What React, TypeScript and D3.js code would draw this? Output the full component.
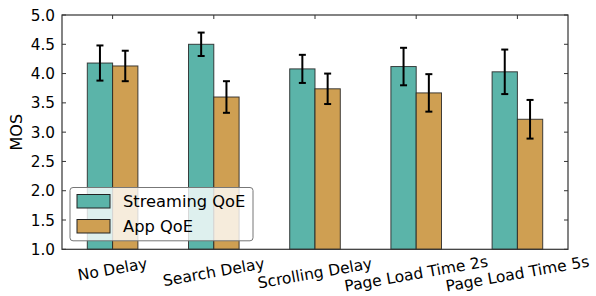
import React, { useEffect, useRef } from "react";
import * as d3 from "d3";

const categories = ["No Delay", "Search Delay", "Scrolling Delay", "Page Load Time 2s", "Page Load Time 5s"];
const seriesNames = ["Streaming QoE", "App QoE"];
const streamingMean = [4.18, 4.5, 4.08, 4.12, 4.03];
const streamingErr = [0.3, 0.2, 0.24, 0.32, 0.38];
const appMean = [4.13, 3.6, 3.74, 3.67, 3.22];
const appErr = [0.26, 0.27, 0.26, 0.32, 0.33];
const yTicks = [1.0, 1.5, 2.0, 2.5, 3.0, 3.5, 4.0, 4.5, 5.0];
const colors = ["#5bb4a9", "#cf9f52"];

const W = 596, H = 296;
const M = { left: 62, right: 568, top: 15, bottom: 249.3 };
const FONT = "DejaVu Sans, sans-serif";

export default function App() {
  const ref = useRef<SVGSVGElement>(null);
  useEffect(() => {
    const svg = d3.select(ref.current);
    svg.selectAll("*").remove();
    const x = d3.scaleLinear().domain([-0.5, categories.length - 0.5]).range([M.left, M.right]);
    const y = d3.scaleLinear().domain([1, 5]).range([M.bottom, M.top]);
    const bw = x(0.25) - x(0);
    const series = [
      { mean: streamingMean, err: streamingErr, off: -0.25 },
      { mean: appMean, err: appErr, off: 0 },
    ];
    const g = svg.append("g");
    series.forEach((s, si) => {
      g.selectAll(null).data(s.mean).enter().append("rect")
        .attr("x", (_, i) => x(i + s.off))
        .attr("y", (d) => y(d))
        .attr("width", bw)
        .attr("height", (d) => y(1) - y(d))
        .attr("fill", colors[si])
        .attr("stroke", "#222")
        .attr("stroke-opacity", 0.85)
        .attr("stroke-width", 1);
    });
    series.forEach((s) => {
      s.mean.forEach((m, i) => {
        const cx = x(i + s.off + 0.125);
        const lo = y(m - s.err[i]), hi = y(m + s.err[i]);
        g.append("line").attr("x1", cx).attr("x2", cx).attr("y1", lo).attr("y2", hi)
          .attr("stroke", "#000").attr("stroke-width", 2);
        [lo, hi].forEach((yy) => g.append("line").attr("x1", cx - 3.5).attr("x2", cx + 3.5)
          .attr("y1", yy).attr("y2", yy).attr("stroke", "#000").attr("stroke-width", 2));
      });
    });
    // frame
    const axColor = "#333";
    svg.append("rect").attr("x", M.left).attr("y", M.top).attr("width", M.right - M.left)
      .attr("height", M.bottom - M.top).attr("fill", "none").attr("stroke", axColor).attr("stroke-width", 1.2);
    // y ticks
    yTicks.forEach((t) => {
      const yy = y(t);
      svg.append("line").attr("x1", M.left).attr("x2", M.left + 4).attr("y1", yy).attr("y2", yy).attr("stroke", axColor);
      svg.append("line").attr("x1", M.right - 4).attr("x2", M.right).attr("y1", yy).attr("y2", yy).attr("stroke", axColor);
      svg.append("text").attr("x", M.left - 7).attr("y", yy).attr("dy", "0.36em")
        .attr("text-anchor", "end").attr("font-family", FONT).attr("font-size", 15.3).attr("fill", "#000")
        .text(d3.format(".1f")(t));
    });
    // x ticks (top)
    categories.forEach((_, i) => {
      const xx = x(i);
      svg.append("line").attr("x1", xx).attr("x2", xx).attr("y1", M.top).attr("y2", M.top + 4).attr("stroke", axColor);
    });
    // x labels, rotated 10deg
    const ang = (10 * Math.PI) / 180;
    const fs = 15.5;
    categories.forEach((c, i) => {
      const t = svg.append("text").attr("font-family", FONT).attr("font-size", fs).attr("fill", "#000")
        .attr("text-anchor", "middle").attr("dominant-baseline", "central").text(c);
      const w = (t.node() as SVGTextElement).getComputedTextLength();
      const halfInk = (w * Math.sin(ang) + 15 * Math.cos(ang)) / 2;
      const halfBox = (w * Math.sin(ang) + fs * 1.16 * Math.cos(ang)) / 2;
      const cx = x(i);
      const cy = Math.min(256 + halfInk, 295.5 - halfBox);
      t.attr("x", cx).attr("y", cy).attr("transform", `rotate(-10, ${cx}, ${cy})`);
    });
    // y label
    svg.append("text").attr("transform", `translate(16, ${(M.top + M.bottom) / 2}) rotate(-90)`)
      .attr("text-anchor", "middle").attr("dominant-baseline", "central")
      .attr("font-family", FONT).attr("font-size", 16).text("MOS");
    // legend
    const lg = svg.append("g");
    lg.append("rect").attr("x", 70).attr("y", 187.5).attr("width", 183).attr("height", 53.3)
      .attr("rx", 3).attr("fill", "#fff").attr("fill-opacity", 0.8).attr("stroke", "#777").attr("stroke-width", 1);
    seriesNames.forEach((n, i) => {
      const yy = 194.5 + i * 25;
      lg.append("rect").attr("x", 77).attr("y", yy).attr("width", 33).attr("height", 13.5)
        .attr("fill", colors[i]).attr("stroke", "#222").attr("stroke-width", 1);
      lg.append("text").attr("x", 123).attr("y", yy + 6.75).attr("dominant-baseline", "central")
        .attr("font-family", FONT).attr("font-size", 16.3).text(n);
    });
  }, []);
  return (
    <svg ref={ref} width={W} height={H} style={{ position: "absolute", left: 0, top: 0, background: "#fff" }} />
  );
}
